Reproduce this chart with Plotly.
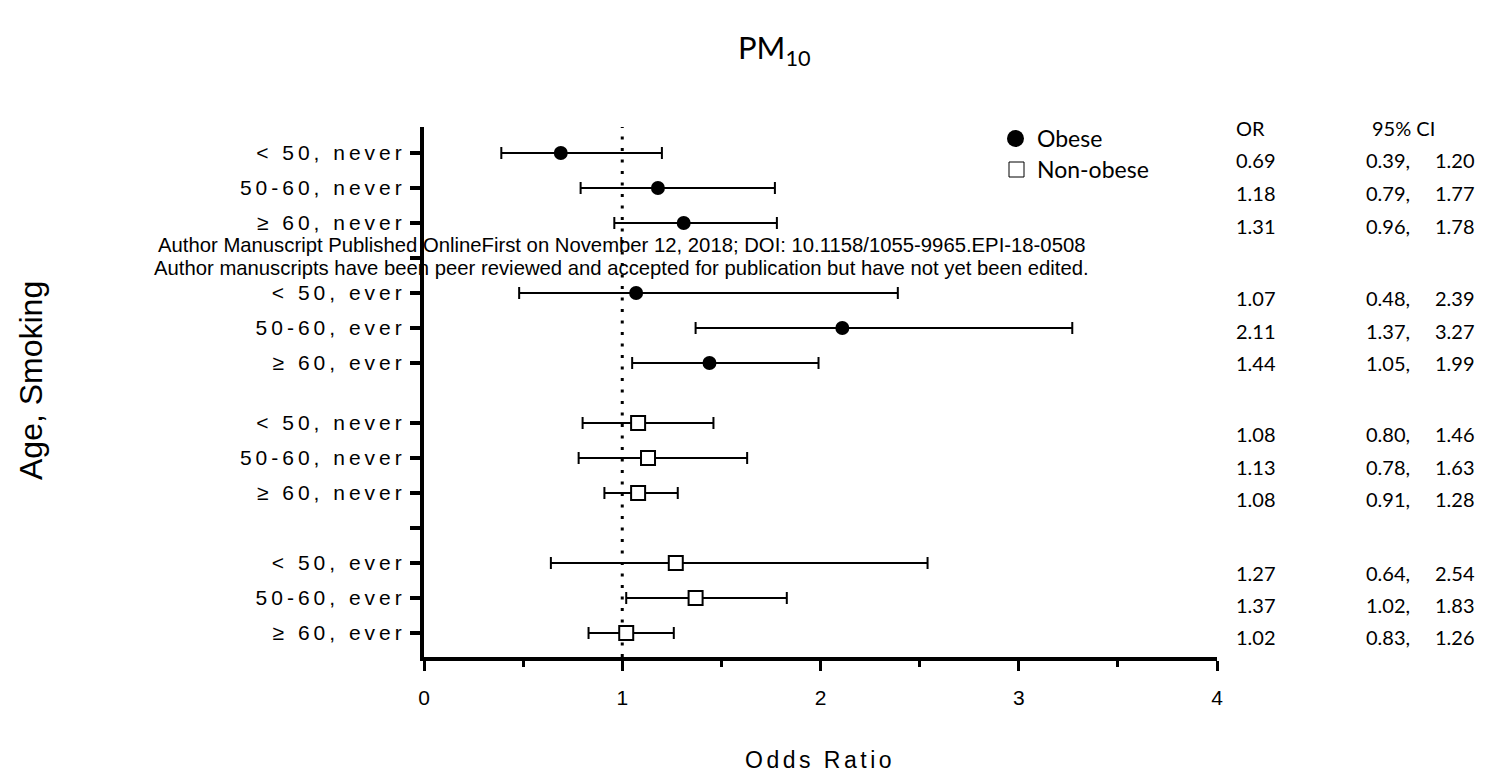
import plotly.graph_objects as go

# ---------------- data ----------------
row_labels = ["< 50, never", "50-60, never", "≥ 60, never",
              "< 50, ever", "50-60, ever", "≥ 60, ever"]
obese_or = [0.69, 1.18, 1.31, 1.07, 2.11, 1.44]
obese_lo = [0.39, 0.79, 0.96, 0.48, 1.37, 1.05]
obese_hi = [1.20, 1.77, 1.78, 2.39, 3.27, 1.99]
nonob_or = [1.08, 1.13, 1.08, 1.27, 1.37, 1.02]
nonob_lo = [0.80, 0.78, 0.91, 0.64, 1.02, 0.83]
nonob_hi = [1.46, 1.63, 1.28, 2.54, 1.83, 1.26]
x_tick_vals = [0, 1, 2, 3, 4]
x_tick_text = ["0", "1", "2", "3", "4"]

# ---------------- layout helpers ----------------
W, H = 1485, 774
L, R, T, B = 424, 268, 127, 117
PW, PH = W - L - R, H - T - B

obese_pos = [0, 1, 2, 4, 5, 6]
nonob_pos = [7.714, 8.714, 9.714, 11.714, 12.714, 13.714]
blank_pos = [3, 10.714]
text_shift = [-7, -5, -3, -5, -3, 0, -11, -9, -6, -10, -7, -4]

def px2paper_x(px):
    return (px - L) / PW

def px2paper_y(py):
    return (H - B - py) / PH

def spaced(t, ls="letter-spacing:4px"):
    t = t.replace("<", "&lt;")
    return f'<span style="{ls}">{t}</span>'

tickvals = obese_pos + nonob_pos + blank_pos
ticktext = [spaced(t) for t in row_labels] * 2 + ["", ""]

fig = go.Figure()

fig.add_trace(go.Scatter(
    x=obese_or, y=obese_pos, mode="markers", name="Obese", showlegend=False,
    marker=dict(symbol="circle", size=14, color="black"),
    error_x=dict(type="data", symmetric=False,
                 array=[h - o for h, o in zip(obese_hi, obese_or)],
                 arrayminus=[o - l for o, l in zip(obese_or, obese_lo)],
                 color="black", thickness=2, width=6),
))
fig.add_trace(go.Scatter(
    x=nonob_or, y=nonob_pos, mode="markers", name="Non-obese", showlegend=False,
    marker=dict(symbol="square", size=14, color="white",
                line=dict(color="black", width=2)),
    error_x=dict(type="data", symmetric=False,
                 array=[h - o for h, o in zip(nonob_hi, nonob_or)],
                 arrayminus=[o - l for o, l in zip(nonob_or, nonob_lo)],
                 color="black", thickness=2, width=6),
))

# reference line at OR = 1
fig.add_shape(type="line", xref="x", yref="paper", x0=1, x1=1, y0=0, y1=1,
              line=dict(color="black", width=3, dash="3px,8.5px"), layer="below")

# legend symbols
fig.add_shape(type="circle", xref="paper", yref="paper",
              x0=px2paper_x(1007), x1=px2paper_x(1024),
              y0=px2paper_y(147), y1=px2paper_y(130),
              fillcolor="black", line=dict(color="black", width=0))
fig.add_shape(type="rect", xref="paper", yref="paper",
              x0=px2paper_x(1009), x1=px2paper_x(1024),
              y0=px2paper_y(177), y1=px2paper_y(162),
              fillcolor="white", line=dict(color="black", width=1))

ann = []
TXT_FONT = "Lato, Open Sans, sans-serif"
ARIAL = "Liberation Sans, Arial, sans-serif"
# right table
ors = obese_or + nonob_or
los = obese_lo + nonob_lo
his = obese_hi + nonob_hi
pos = obese_pos + nonob_pos
for o, l, h, p, s in zip(ors, los, his, pos, text_shift):
    for xp, txt in [(1278, f"{o:.2f}"), (1412, f"{l:.2f},"), (1477, f"{h:.2f}")]:
        ann.append(dict(x=px2paper_x(xp), xref="paper", y=p, yref="y", yshift=s,
                        text=txt, showarrow=False, xanchor="right", yanchor="middle",
                        font=dict(family=TXT_FONT, size=20, color="black")))
ann.append(dict(x=px2paper_x(1234), xref="paper", y=px2paper_y(128), yref="paper",
                text="OR", showarrow=False, xanchor="left", yanchor="middle",
                font=dict(family=TXT_FONT, size=20, color="black")))
ann.append(dict(x=px2paper_x(1370), xref="paper", y=px2paper_y(128), yref="paper",
                text="95% CI", showarrow=False, xanchor="left", yanchor="middle",
                font=dict(family=TXT_FONT, size=20, color="black")))
# legend text
ann.append(dict(x=px2paper_x(1035), xref="paper", y=px2paper_y(138), yref="paper",
                text="Obese", showarrow=False, xanchor="left", yanchor="middle",
                font=dict(family=TXT_FONT, size=23, color="black")))
ann.append(dict(x=px2paper_x(1035), xref="paper", y=px2paper_y(169), yref="paper",
                text="Non-obese", showarrow=False, xanchor="left", yanchor="middle",
                font=dict(family=TXT_FONT, size=23, color="black")))
# title
ann.append(dict(x=px2paper_x(774), xref="paper", y=px2paper_y(49), yref="paper",
                text="PM<sub>10</sub>", showarrow=False, xanchor="center", yanchor="middle",
                font=dict(family=TXT_FONT, size=31, color="black")))
# axis titles
ann.append(dict(x=px2paper_x(820), xref="paper", y=px2paper_y(760), yref="paper",
                text=spaced("Odds Ratio", "letter-spacing:3.5px"), showarrow=False,
                xanchor="center", yanchor="middle",
                font=dict(family=ARIAL, size=23, color="black")))
ann.append(dict(x=px2paper_x(31), xref="paper", y=px2paper_y(381), yref="paper",
                text="Age, Smoking", showarrow=False, textangle=-90,
                xanchor="center", yanchor="middle",
                font=dict(family=ARIAL, size=32, color="black")))
# watermark
for yy, txt in [(245, "Author Manuscript Published OnlineFirst on November 12, 2018; DOI: 10.1158/1055-9965.EPI-18-0508"),
                (268, "Author manuscripts have been peer reviewed and accepted for publication but have not yet been edited.")]:
    ann.append(dict(x=px2paper_x(621), xref="paper", y=px2paper_y(yy), yref="paper",
                    text=txt, showarrow=False, xanchor="center", yanchor="middle",
                    font=dict(family=ARIAL, size=20.3, color="black")))

fig.update_layout(
    width=W, height=H, autosize=False,
    margin=dict(l=L, r=R, t=T, b=B, pad=0),
    paper_bgcolor="white", plot_bgcolor="white",
    showlegend=False,
    annotations=ann,
    xaxis=dict(range=[0, 4], tickvals=x_tick_vals, ticktext=x_tick_text,
               showgrid=False, zeroline=False, showline=True, linecolor="black",
               linewidth=4, ticks="outside", ticklen=10, tickwidth=3, tickcolor="black",
               ticklabelstandoff=9,
               tickfont=dict(family=ARIAL, size=21, color="black"),
               minor=dict(dtick=0.5, ticks="outside", ticklen=6, tickwidth=3,
                          tickcolor="black", showgrid=False),
               fixedrange=True, automargin=False),
    yaxis=dict(range=[14.4, -0.743], tickvals=tickvals, ticktext=ticktext,
               showgrid=False, zeroline=False, showline=True, linecolor="black",
               linewidth=4, ticks="outside", ticklen=10, tickwidth=4, tickcolor="black",
               tickfont=dict(family=ARIAL, size=21, color="black"),
               fixedrange=True, automargin=False),
)

fig.write_html("out.html")
